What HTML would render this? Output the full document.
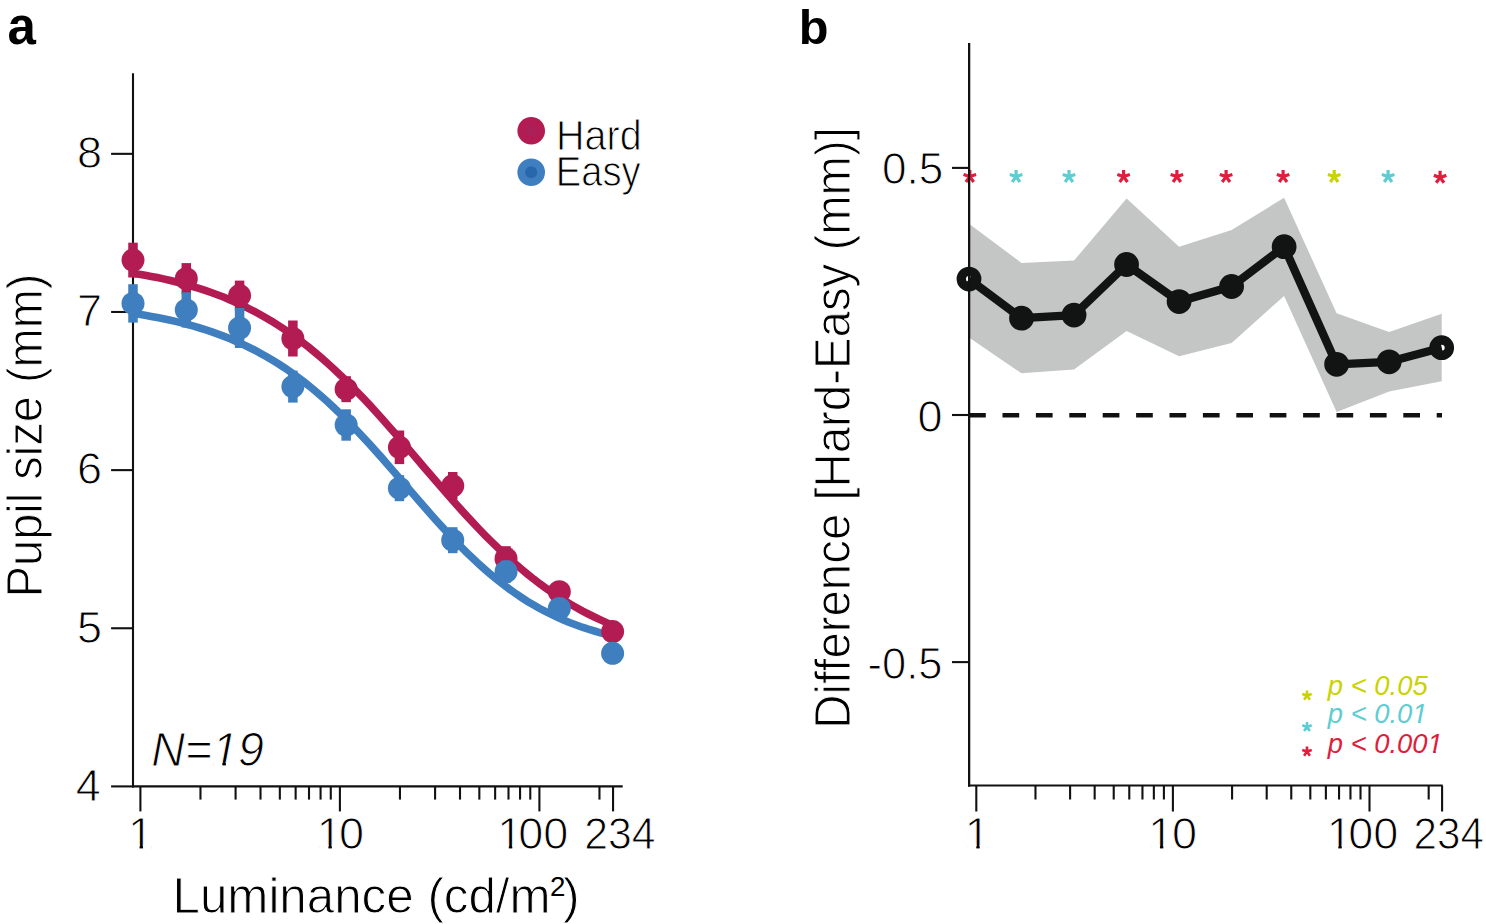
<!DOCTYPE html><html><head><meta charset="utf-8"><style>html,body{margin:0;padding:0;background:#fff;}svg{display:block}text{font-family:"Liberation Sans", sans-serif;}</style></head><body>
<svg width="1486" height="924" viewBox="0 0 1486 924">
<rect width="1486" height="924" fill="#fff"/>
<line x1="133" y1="73.3" x2="133" y2="787.4" stroke="#111" stroke-width="2.1"/>
<line x1="132" y1="786.4" x2="622.7" y2="786.4" stroke="#111" stroke-width="2.1"/>
<line x1="111.1" y1="786.40" x2="133" y2="786.40" stroke="#111" stroke-width="2.1"/>
<line x1="111.1" y1="628.26" x2="133" y2="628.26" stroke="#111" stroke-width="2.1"/>
<line x1="111.1" y1="470.12" x2="133" y2="470.12" stroke="#111" stroke-width="2.1"/>
<line x1="111.1" y1="311.98" x2="133" y2="311.98" stroke="#111" stroke-width="2.1"/>
<line x1="111.1" y1="153.84" x2="133" y2="153.84" stroke="#111" stroke-width="2.1"/>
<line x1="140.40" y1="786.4" x2="140.40" y2="811.40" stroke="#111" stroke-width="2.1"/>
<line x1="200.46" y1="786.4" x2="200.46" y2="799.60" stroke="#111" stroke-width="2.1"/>
<line x1="235.59" y1="786.4" x2="235.59" y2="799.60" stroke="#111" stroke-width="2.1"/>
<line x1="260.51" y1="786.4" x2="260.51" y2="799.60" stroke="#111" stroke-width="2.1"/>
<line x1="279.84" y1="786.4" x2="279.84" y2="799.60" stroke="#111" stroke-width="2.1"/>
<line x1="295.64" y1="786.4" x2="295.64" y2="799.60" stroke="#111" stroke-width="2.1"/>
<line x1="309.00" y1="786.4" x2="309.00" y2="799.60" stroke="#111" stroke-width="2.1"/>
<line x1="320.57" y1="786.4" x2="320.57" y2="799.60" stroke="#111" stroke-width="2.1"/>
<line x1="330.77" y1="786.4" x2="330.77" y2="799.60" stroke="#111" stroke-width="2.1"/>
<line x1="339.90" y1="786.4" x2="339.90" y2="811.40" stroke="#111" stroke-width="2.1"/>
<line x1="399.96" y1="786.4" x2="399.96" y2="799.60" stroke="#111" stroke-width="2.1"/>
<line x1="435.09" y1="786.4" x2="435.09" y2="799.60" stroke="#111" stroke-width="2.1"/>
<line x1="460.01" y1="786.4" x2="460.01" y2="799.60" stroke="#111" stroke-width="2.1"/>
<line x1="479.34" y1="786.4" x2="479.34" y2="799.60" stroke="#111" stroke-width="2.1"/>
<line x1="495.14" y1="786.4" x2="495.14" y2="799.60" stroke="#111" stroke-width="2.1"/>
<line x1="508.50" y1="786.4" x2="508.50" y2="799.60" stroke="#111" stroke-width="2.1"/>
<line x1="520.07" y1="786.4" x2="520.07" y2="799.60" stroke="#111" stroke-width="2.1"/>
<line x1="530.27" y1="786.4" x2="530.27" y2="799.60" stroke="#111" stroke-width="2.1"/>
<line x1="539.40" y1="786.4" x2="539.40" y2="811.40" stroke="#111" stroke-width="2.1"/>
<line x1="599.46" y1="786.4" x2="599.46" y2="799.60" stroke="#111" stroke-width="2.1"/>
<line x1="613.06" y1="786.4" x2="613.06" y2="811.40" stroke="#111" stroke-width="2.1"/>
<polyline points="133.0,313.3 139.1,314.3 145.1,315.3 151.2,316.4 157.3,317.5 163.4,318.7 169.4,320.0 175.5,321.4 181.6,322.9 187.6,324.5 193.7,326.2 199.8,328.0 205.9,329.9 211.9,331.9 218.0,334.1 224.1,336.4 230.1,338.8 236.2,341.4 242.3,344.1 248.3,347.0 254.4,350.0 260.5,353.3 266.6,356.7 272.6,360.3 278.7,364.0 284.8,368.0 290.8,372.2 296.9,376.5 303.0,381.1 309.1,385.9 315.1,390.9 321.2,396.1 327.3,401.5 333.3,407.1 339.4,412.9 345.5,418.8 351.6,425.0 357.6,431.3 363.7,437.8 369.8,444.4 375.8,451.1 381.9,457.9 388.0,464.9 394.0,471.9 400.1,478.9 406.2,485.9 412.3,493.0 418.3,500.0 424.4,507.0 430.5,513.9 436.5,520.7 442.6,527.4 448.7,534.0 454.8,540.4 460.8,546.6 466.9,552.7 473.0,558.5 479.0,564.2 485.1,569.6 491.2,574.8 497.3,579.8 503.3,584.6 509.4,589.1 515.5,593.5 521.5,597.5 527.6,601.4 533.7,605.0 539.7,608.5 545.8,611.7 551.9,614.7 558.0,617.6 564.0,620.2 570.1,622.7 576.2,625.0 582.2,627.2 588.3,629.2 594.4,631.0 600.5,632.8 606.5,634.4 612.6,635.9" fill="none" stroke="#3F7EBF" stroke-width="7.6"/>
<polyline points="133.0,273.2 139.1,274.2 145.1,275.3 151.2,276.4 157.3,277.6 163.4,278.9 169.4,280.3 175.5,281.8 181.6,283.3 187.6,285.0 193.7,286.8 199.8,288.6 205.9,290.6 211.9,292.7 218.0,295.0 224.1,297.3 230.1,299.9 236.2,302.5 242.3,305.3 248.3,308.3 254.4,311.4 260.5,314.7 266.6,318.2 272.6,321.8 278.7,325.6 284.8,329.6 290.8,333.8 296.9,338.2 303.0,342.8 309.1,347.5 315.1,352.5 321.2,357.6 327.3,363.0 333.3,368.5 339.4,374.2 345.5,380.1 351.6,386.1 357.6,392.3 363.7,398.7 369.8,405.2 375.8,411.8 381.9,418.5 388.0,425.4 394.0,432.3 400.1,439.3 406.2,446.3 412.3,453.4 418.3,460.5 424.4,467.7 430.5,474.8 436.5,481.8 442.6,488.8 448.7,495.8 454.8,502.7 460.8,509.4 466.9,516.1 473.0,522.6 479.0,529.0 485.1,535.3 491.2,541.4 497.3,547.3 503.3,553.1 509.4,558.6 515.5,564.0 521.5,569.2 527.6,574.2 533.7,579.1 539.7,583.7 545.8,588.1 551.9,592.4 558.0,596.4 564.0,600.3 570.1,604.0 576.2,607.5 582.2,610.9 588.3,614.0 594.4,617.0 600.5,619.9 606.5,622.6 612.6,625.2" fill="none" stroke="#B31B53" stroke-width="7.6"/>
<rect x="128.25" y="242.70" width="9.5" height="34.80" fill="#B31B53"/>
<circle cx="133.00" cy="260.10" r="11.5" fill="#B31B53"/>
<rect x="181.54" y="263.10" width="9.5" height="31.20" fill="#B31B53"/>
<circle cx="186.29" cy="278.70" r="11.5" fill="#B31B53"/>
<rect x="234.83" y="280.60" width="9.5" height="30.00" fill="#B31B53"/>
<circle cx="239.58" cy="295.60" r="11.5" fill="#B31B53"/>
<rect x="288.12" y="320.50" width="9.5" height="36.00" fill="#B31B53"/>
<circle cx="292.87" cy="338.50" r="11.5" fill="#B31B53"/>
<rect x="341.41" y="376.20" width="9.5" height="26.00" fill="#B31B53"/>
<circle cx="346.16" cy="389.20" r="11.5" fill="#B31B53"/>
<rect x="394.70" y="430.50" width="9.5" height="33.60" fill="#B31B53"/>
<circle cx="399.45" cy="447.30" r="11.5" fill="#B31B53"/>
<rect x="447.99" y="472.00" width="9.5" height="27.60" fill="#B31B53"/>
<circle cx="452.74" cy="485.80" r="11.5" fill="#B31B53"/>
<rect x="501.28" y="546.20" width="9.5" height="25.00" fill="#B31B53"/>
<circle cx="506.03" cy="558.70" r="11.5" fill="#B31B53"/>
<rect x="554.57" y="585.70" width="9.5" height="12.00" fill="#B31B53"/>
<circle cx="559.32" cy="591.70" r="11.5" fill="#B31B53"/>
<circle cx="612.61" cy="631.60" r="11.5" fill="#B31B53"/>
<rect x="128.25" y="284.20" width="9.5" height="38.40" fill="#3F7EBF"/>
<circle cx="133.00" cy="303.40" r="11.5" fill="#3F7EBF"/>
<rect x="181.54" y="292.30" width="9.5" height="35.20" fill="#3F7EBF"/>
<circle cx="186.29" cy="309.90" r="11.5" fill="#3F7EBF"/>
<rect x="234.83" y="308.00" width="9.5" height="40.00" fill="#3F7EBF"/>
<circle cx="239.58" cy="328.00" r="11.5" fill="#3F7EBF"/>
<rect x="288.12" y="370.60" width="9.5" height="32.00" fill="#3F7EBF"/>
<circle cx="292.87" cy="386.60" r="11.5" fill="#3F7EBF"/>
<rect x="341.41" y="409.30" width="9.5" height="31.40" fill="#3F7EBF"/>
<circle cx="346.16" cy="425.00" r="11.5" fill="#3F7EBF"/>
<rect x="394.70" y="475.20" width="9.5" height="26.00" fill="#3F7EBF"/>
<circle cx="399.45" cy="488.20" r="11.5" fill="#3F7EBF"/>
<rect x="447.99" y="527.20" width="9.5" height="26.00" fill="#3F7EBF"/>
<circle cx="452.74" cy="540.20" r="11.5" fill="#3F7EBF"/>
<rect x="501.28" y="560.50" width="9.5" height="22.40" fill="#3F7EBF"/>
<circle cx="506.03" cy="571.70" r="11.5" fill="#3F7EBF"/>
<rect x="554.57" y="602.50" width="9.5" height="12.00" fill="#3F7EBF"/>
<circle cx="559.32" cy="608.50" r="11.5" fill="#3F7EBF"/>
<circle cx="612.61" cy="653.30" r="11.5" fill="#3F7EBF"/>
<circle cx="531.2" cy="130.7" r="13.8" fill="#B31B53"/><circle cx="531.2" cy="130.7" r="5.8" fill="#AA2058"/>
<circle cx="531.2" cy="172.3" r="13.8" fill="#3F7EBF"/><circle cx="531.2" cy="172.3" r="6" fill="#2767AB"/>
<polygon points="969.0,223.8 1021.5,262.9 1074.0,260.6 1126.6,198.6 1179.1,246.7 1231.6,230.0 1284.1,197.7 1336.6,313.2 1389.2,332.0 1441.7,313.8 1441.7,381.3 1389.2,391.6 1336.6,412.0 1284.1,296.0 1231.6,343.0 1179.1,356.2 1126.6,330.9 1074.0,369.6 1021.5,373.3 969.0,337.5" fill="#C4C6C5"/>
<line x1="969.1" y1="43.1" x2="969.1" y2="786.5" stroke="#111" stroke-width="2.1"/>
<line x1="968.1" y1="785.5" x2="1442.6" y2="785.5" stroke="#111" stroke-width="2.1"/>
<line x1="952" y1="167.90" x2="969.1" y2="167.90" stroke="#111" stroke-width="2.1"/>
<line x1="952" y1="415.00" x2="969.1" y2="415.00" stroke="#111" stroke-width="2.1"/>
<line x1="952" y1="662.10" x2="969.1" y2="662.10" stroke="#111" stroke-width="2.1"/>
<line x1="976.30" y1="785.5" x2="976.30" y2="811.50" stroke="#111" stroke-width="2.1"/>
<line x1="1035.48" y1="785.5" x2="1035.48" y2="799.50" stroke="#111" stroke-width="2.1"/>
<line x1="1070.10" y1="785.5" x2="1070.10" y2="799.50" stroke="#111" stroke-width="2.1"/>
<line x1="1094.66" y1="785.5" x2="1094.66" y2="799.50" stroke="#111" stroke-width="2.1"/>
<line x1="1113.72" y1="785.5" x2="1113.72" y2="799.50" stroke="#111" stroke-width="2.1"/>
<line x1="1129.28" y1="785.5" x2="1129.28" y2="799.50" stroke="#111" stroke-width="2.1"/>
<line x1="1142.45" y1="785.5" x2="1142.45" y2="799.50" stroke="#111" stroke-width="2.1"/>
<line x1="1153.85" y1="785.5" x2="1153.85" y2="799.50" stroke="#111" stroke-width="2.1"/>
<line x1="1163.90" y1="785.5" x2="1163.90" y2="799.50" stroke="#111" stroke-width="2.1"/>
<line x1="1172.90" y1="785.5" x2="1172.90" y2="811.50" stroke="#111" stroke-width="2.1"/>
<line x1="1232.08" y1="785.5" x2="1232.08" y2="799.50" stroke="#111" stroke-width="2.1"/>
<line x1="1266.70" y1="785.5" x2="1266.70" y2="799.50" stroke="#111" stroke-width="2.1"/>
<line x1="1291.26" y1="785.5" x2="1291.26" y2="799.50" stroke="#111" stroke-width="2.1"/>
<line x1="1310.32" y1="785.5" x2="1310.32" y2="799.50" stroke="#111" stroke-width="2.1"/>
<line x1="1325.88" y1="785.5" x2="1325.88" y2="799.50" stroke="#111" stroke-width="2.1"/>
<line x1="1339.05" y1="785.5" x2="1339.05" y2="799.50" stroke="#111" stroke-width="2.1"/>
<line x1="1350.45" y1="785.5" x2="1350.45" y2="799.50" stroke="#111" stroke-width="2.1"/>
<line x1="1360.50" y1="785.5" x2="1360.50" y2="799.50" stroke="#111" stroke-width="2.1"/>
<line x1="1369.50" y1="785.5" x2="1369.50" y2="811.50" stroke="#111" stroke-width="2.1"/>
<line x1="1428.68" y1="785.5" x2="1428.68" y2="799.50" stroke="#111" stroke-width="2.1"/>
<line x1="1442.09" y1="785.5" x2="1442.09" y2="811.50" stroke="#111" stroke-width="2.1"/>
<line x1="969.1" y1="415.2" x2="1442" y2="415.2" stroke="#111" stroke-width="4.5" stroke-dasharray="16.7 16.7"/>
<polyline points="969.0,279.1 1021.5,318.2 1074.0,315.1 1126.6,264.5 1179.1,301.6 1231.6,286.5 1284.1,246.7 1336.6,364.3 1389.2,361.8 1441.7,347.7" fill="none" stroke="#121413" stroke-width="8.3" stroke-linejoin="round"/>
<circle cx="969.00" cy="279.10" r="7.7" fill="none" stroke="#121413" stroke-width="9.4"/>
<circle cx="1021.52" cy="318.20" r="7.7" fill="none" stroke="#121413" stroke-width="9.4"/>
<circle cx="1074.04" cy="315.10" r="7.7" fill="none" stroke="#121413" stroke-width="9.4"/>
<circle cx="1126.56" cy="264.50" r="7.7" fill="none" stroke="#121413" stroke-width="9.4"/>
<circle cx="1179.08" cy="301.60" r="7.7" fill="none" stroke="#121413" stroke-width="9.4"/>
<circle cx="1231.60" cy="286.50" r="7.7" fill="none" stroke="#121413" stroke-width="9.4"/>
<circle cx="1284.12" cy="246.70" r="7.7" fill="none" stroke="#121413" stroke-width="9.4"/>
<circle cx="1336.64" cy="364.30" r="7.7" fill="none" stroke="#121413" stroke-width="9.4"/>
<circle cx="1389.16" cy="361.80" r="7.7" fill="none" stroke="#121413" stroke-width="9.4"/>
<circle cx="1441.68" cy="347.70" r="7.7" fill="none" stroke="#121413" stroke-width="9.4"/>
<path d="M969.80,176.60L969.80,170.00M969.80,176.60L976.08,174.56M969.80,176.60L973.68,181.94M969.80,176.60L965.92,181.94M969.80,176.60L963.52,174.56" stroke="#DF1D3D" stroke-width="3.2" fill="none"/>
<path d="M1016.10,176.60L1016.10,170.00M1016.10,176.60L1022.38,174.56M1016.10,176.60L1019.98,181.94M1016.10,176.60L1012.22,181.94M1016.10,176.60L1009.82,174.56" stroke="#5ECDD2" stroke-width="3.2" fill="none"/>
<path d="M1069.00,176.60L1069.00,170.00M1069.00,176.60L1075.28,174.56M1069.00,176.60L1072.88,181.94M1069.00,176.60L1065.12,181.94M1069.00,176.60L1062.72,174.56" stroke="#5ECDD2" stroke-width="3.2" fill="none"/>
<path d="M1123.60,176.60L1123.60,170.00M1123.60,176.60L1129.88,174.56M1123.60,176.60L1127.48,181.94M1123.60,176.60L1119.72,181.94M1123.60,176.60L1117.32,174.56" stroke="#DF1D3D" stroke-width="3.2" fill="none"/>
<path d="M1176.90,176.60L1176.90,170.00M1176.90,176.60L1183.18,174.56M1176.90,176.60L1180.78,181.94M1176.90,176.60L1173.02,181.94M1176.90,176.60L1170.62,174.56" stroke="#DF1D3D" stroke-width="3.2" fill="none"/>
<path d="M1226.10,176.60L1226.10,170.00M1226.10,176.60L1232.38,174.56M1226.10,176.60L1229.98,181.94M1226.10,176.60L1222.22,181.94M1226.10,176.60L1219.82,174.56" stroke="#DF1D3D" stroke-width="3.2" fill="none"/>
<path d="M1283.10,176.60L1283.10,170.00M1283.10,176.60L1289.38,174.56M1283.10,176.60L1286.98,181.94M1283.10,176.60L1279.22,181.94M1283.10,176.60L1276.82,174.56" stroke="#DF1D3D" stroke-width="3.2" fill="none"/>
<path d="M1334.20,176.60L1334.20,170.00M1334.20,176.60L1340.48,174.56M1334.20,176.60L1338.08,181.94M1334.20,176.60L1330.32,181.94M1334.20,176.60L1327.92,174.56" stroke="#C9D300" stroke-width="3.2" fill="none"/>
<path d="M1388.10,176.60L1388.10,170.00M1388.10,176.60L1394.38,174.56M1388.10,176.60L1391.98,181.94M1388.10,176.60L1384.22,181.94M1388.10,176.60L1381.82,174.56" stroke="#5ECDD2" stroke-width="3.2" fill="none"/>
<path d="M1440.10,177.40L1440.10,170.80M1440.10,177.40L1446.38,175.36M1440.10,177.40L1443.98,182.74M1440.10,177.40L1436.22,182.74M1440.10,177.40L1433.82,175.36" stroke="#DF1D3D" stroke-width="3.2" fill="none"/>
<line x1="969.1" y1="43.1" x2="969.1" y2="786.5" stroke="#111" stroke-width="2.1"/>
<path d="M1307.00,695.60L1307.00,690.60M1307.00,695.60L1311.76,694.05M1307.00,695.60L1309.94,699.65M1307.00,695.60L1304.06,699.65M1307.00,695.60L1302.24,694.05" stroke="#C9D300" stroke-width="2.6" fill="none"/>
<path d="M1307.00,726.90L1307.00,721.90M1307.00,726.90L1311.76,725.35M1307.00,726.90L1309.94,730.95M1307.00,726.90L1304.06,730.95M1307.00,726.90L1302.24,725.35" stroke="#5ECDD2" stroke-width="2.6" fill="none"/>
<path d="M1307.00,751.60L1307.00,746.60M1307.00,751.60L1311.76,750.05M1307.00,751.60L1309.94,755.65M1307.00,751.60L1304.06,755.65M1307.00,751.60L1302.24,750.05" stroke="#DF1D3D" stroke-width="2.6" fill="none"/>
<text x="7.60" y="44.30" font-size="51.01" font-style="normal" font-weight="bold" fill="#000">a</text>
<text x="798.75" y="44.30" font-size="48.71" font-style="normal" font-weight="bold" fill="#000">b</text>
<text x="77.00" y="167.75" font-size="45.00" font-style="normal" font-weight="normal" fill="#000" stroke="#fff" stroke-width="1.0">8</text>
<text x="75.75" y="800.80" font-size="45.00" font-style="normal" font-weight="normal" fill="#000" stroke="#fff" stroke-width="1.0">4</text>
<text x="128.00" y="849.30" font-size="45.00" font-style="normal" font-weight="normal" fill="#000" stroke="#fff" stroke-width="1.0">1</text>
<text x="313.85" y="848.80" dx="3.0 -3.0" font-size="45.00" font-style="normal" font-weight="normal" fill="#000" stroke="#fff" stroke-width="1.0">10</text>
<text x="493.25" y="848.80" dx="4.0 -4.0" font-size="45.00" font-style="normal" font-weight="normal" fill="#000" stroke="#fff" stroke-width="1.0">100</text>
<text x="584.25" y="848.80" font-size="45.00" font-style="normal" font-weight="normal" fill="#000" stroke="#fff" stroke-width="1.0" textLength="71.30" lengthAdjust="spacingAndGlyphs">234</text>
<text x="556.05" y="149.80" font-size="42.02" font-style="normal" font-weight="normal" fill="#000" stroke="#fff" stroke-width="1.0" textLength="85.65" lengthAdjust="spacingAndGlyphs">Hard</text>
<text x="555.70" y="185.90" font-size="43.00" font-style="normal" font-weight="normal" fill="#000" stroke="#fff" stroke-width="1.0" textLength="84.95" lengthAdjust="spacingAndGlyphs">Easy</text>
<text x="151.20" y="765.90" font-size="47.47" font-style="italic" font-weight="normal" fill="#000" stroke="#fff" stroke-width="1.0" textLength="112.80" lengthAdjust="spacingAndGlyphs">N=19</text>
<text x="172.50" y="913.40" font-size="50.55" font-style="normal" font-weight="normal" fill="#000" stroke="#fff" stroke-width="1.0" textLength="378.15" lengthAdjust="spacingAndGlyphs">Luminance (cd/m</text>
<text x="550.00" y="895.50" font-size="27.79" font-style="normal" font-weight="normal" fill="#000">2</text>
<text x="882.00" y="184.40" font-size="45.00" font-style="normal" font-weight="normal" fill="#000" stroke="#fff" stroke-width="1.0" textLength="61.25" lengthAdjust="spacingAndGlyphs">0.5</text>
<text x="917.55" y="431.50" font-size="45.00" font-style="normal" font-weight="normal" fill="#000" stroke="#fff" stroke-width="1.0">0</text>
<text x="867.60" y="678.70" font-size="45.00" font-style="normal" font-weight="normal" fill="#000" stroke="#fff" stroke-width="1.0" textLength="74.85" lengthAdjust="spacingAndGlyphs">-0.5</text>
<text x="964.70" y="849.30" font-size="45.00" font-style="normal" font-weight="normal" fill="#000" stroke="#fff" stroke-width="1.0">1</text>
<text x="1146.85" y="848.80" dx="1.5 -1.5" font-size="45.00" font-style="normal" font-weight="normal" fill="#000" stroke="#fff" stroke-width="1.0">10</text>
<text x="1323.25" y="848.80" dx="3.5 -3.5" font-size="45.00" font-style="normal" font-weight="normal" fill="#000" stroke="#fff" stroke-width="1.0">100</text>
<text x="1413.50" y="848.80" font-size="45.00" font-style="normal" font-weight="normal" fill="#000" stroke="#fff" stroke-width="1.0" textLength="70.35" lengthAdjust="spacingAndGlyphs">234</text>
<text x="1327.85" y="695.40" font-size="28.00" font-style="italic" font-weight="normal" fill="#C9D300" textLength="99.85" lengthAdjust="spacingAndGlyphs">p &lt; 0.05</text>
<text x="1327.85" y="723.40" font-size="28.00" font-style="italic" font-weight="normal" fill="#5ECDD2" textLength="99.70" lengthAdjust="spacingAndGlyphs">p &lt; 0.01</text>
<text x="1327.85" y="752.50" font-size="28.00" font-style="italic" font-weight="normal" fill="#DF1D3D" textLength="114.80" lengthAdjust="spacingAndGlyphs">p &lt; 0.001</text>
<text transform="translate(42.30,597.25) rotate(-90)" x="0" y="0" font-size="49.34" font-style="normal" font-weight="normal" fill="#000" stroke="#fff" stroke-width="1.0" textLength="323.75" lengthAdjust="spacingAndGlyphs">Pupil size (mm)</text>
<text transform="translate(850.00,728.75) rotate(-90)" x="0" y="0" font-size="50.37" font-style="normal" font-weight="normal" fill="#000" stroke="#fff" stroke-width="1.0" textLength="601.75" lengthAdjust="spacingAndGlyphs">Difference [Hard-Easy (mm)]</text>
<text x="563.10" y="913.40" font-size="50.00" font-style="normal" font-weight="normal" fill="#000" stroke="#fff" stroke-width="1.0">)</text>
<text x="77.00" y="326.29" font-size="45.00" font-style="normal" font-weight="normal" fill="#000" stroke="#fff" stroke-width="1.0">7</text>
<text x="77.00" y="484.43" font-size="45.00" font-style="normal" font-weight="normal" fill="#000" stroke="#fff" stroke-width="1.0">6</text>
<text x="77.00" y="642.57" font-size="45.00" font-style="normal" font-weight="normal" fill="#000" stroke="#fff" stroke-width="1.0">5</text>
<rect x="131.06" y="845" width="8.50" height="7" fill="#fff"/>
<rect x="143.03" y="845" width="7.97" height="7" fill="#fff"/>
<rect x="319.91" y="845" width="8.50" height="7" fill="#fff"/>
<rect x="331.88" y="845" width="7.97" height="7" fill="#fff"/>
<rect x="500.31" y="845" width="8.50" height="7" fill="#fff"/>
<rect x="512.28" y="845" width="7.97" height="7" fill="#fff"/>
<rect x="213.61" y="762" width="8.73" height="7" fill="#fff"/>
<rect x="225.88" y="762" width="8.17" height="7" fill="#fff"/>
<rect x="967.76" y="845" width="8.51" height="7" fill="#fff"/>
<rect x="979.73" y="845" width="7.97" height="7" fill="#fff"/>
<rect x="1151.41" y="845" width="8.51" height="7" fill="#fff"/>
<rect x="1163.38" y="845" width="7.96" height="7" fill="#fff"/>
<rect x="1329.81" y="845" width="8.51" height="7" fill="#fff"/>
<rect x="1341.78" y="845" width="7.96" height="7" fill="#fff"/>
<rect x="1412.62" y="721" width="5.37" height="4" fill="#fff"/>
<rect x="1420.73" y="721" width="5.09" height="4" fill="#fff"/>
<rect x="1427.72" y="750" width="5.37" height="4" fill="#fff"/>
<rect x="1435.83" y="750" width="5.09" height="4" fill="#fff"/>
</svg></body></html>
